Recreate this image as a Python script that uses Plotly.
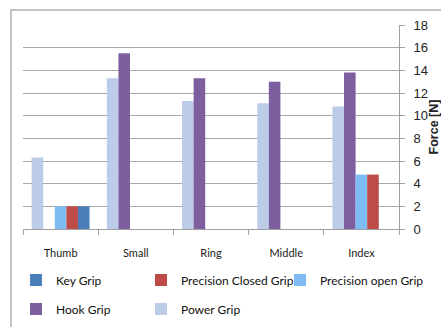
import plotly.graph_objects as go

categories = ["Thumb", "Small", "Ring", "Middle", "Index"]
power_grip = [6.3, 13.3, 11.3, 11.1, 10.8]
hook_grip = [None, 15.5, 13.3, 13.0, 13.8]
precision_open = [2.0, None, None, None, 4.8]
precision_closed = [2.0, None, None, None, 4.8]
key_grip = [2.0, None, None, None, None]
y_ticks = list(range(0, 19, 2))

# (name, values, colour, legend id) in bar order within each group
series = [
    ("Power Grip", power_grip, "#bccbe8", "legend5"),
    ("Hook Grip", hook_grip, "#7d5fa0", "legend4"),
    ("Precision open Grip", precision_open, "#7fbcf3", "legend3"),
    ("Precision Closed Grip", precision_closed, "#be4b48", "legend2"),
    ("Key Grip", key_grip, "#4a7ebb", "legend"),
]

fig = go.Figure()
for name, vals, color, leg in series:
    fig.add_trace(go.Bar(x=categories, y=vals, name=name, marker_color=color,
                         marker_line_width=0, legend=leg))

L, R, T, B = 23, 42, 25, 98
W, H = 441, 327
pw, ph = W - L - R, H - T - B


def leg(xpx, ypx):
    return dict(orientation="h", xref="container", yref="container",
                xanchor="left", yanchor="middle", x=xpx / W, y=1 - ypx / H,
                font=dict(family="Lato", size=12, color="#111"),
                itemwidth=30, bgcolor="rgba(0,0,0,0)", borderwidth=0)


fig.update_layout(
    width=W, height=H,
    margin=dict(l=L, r=R, t=T, b=B, autoexpand=False),
    paper_bgcolor="white", plot_bgcolor="white",
    barmode="group", bargap=0.23, bargroupgap=0,
    font=dict(family="Lato, Liberation Sans", size=12, color="#222"),
    showlegend=True,
    legend=leg(16, 280),
    legend2=leg(141, 280),
    legend3=leg(280, 280),
    legend4=leg(16, 309),
    legend5=leg(141, 309),
    xaxis=dict(showline=True, linecolor="#a0a0a0", linewidth=1,
               ticks="outside", tickson="boundaries", ticklen=5, tickcolor="#a0a0a0",
               tickfont=dict(family="Lato", size=11, color="#222"),
               ticklabelstandoff=14),
    yaxis=dict(side="right", range=[0, 18], tickvals=y_ticks,
               showgrid=True, gridcolor="#a8a8a8", gridwidth=1,
               showline=True, linecolor="#a0a0a0", linewidth=1,
               ticks="outside", ticklen=5, tickcolor="#a0a0a0",
               tickfont=dict(family="Liberation Sans", size=13, color="#222"),
               ticklabelstandoff=6, zeroline=False,
               title=dict(text="<b>Force [N]</b>", standoff=11,
                          font=dict(family="Liberation Sans", size=12.5, color="#222"))),
    shapes=[dict(type="rect", xref="paper", yref="paper",
                 x0=(11 - L) / pw, x1=1.5, y0=-1.0, y1=1 + (T - 10) / ph,
                 line=dict(color="#b0b0b0", width=1.5), layer="below")],
)

fig.write_html("out.html", config={"displayModeBar": False},
               post_script="document.body.style.margin='0';document.body.style.overflow='hidden';")
